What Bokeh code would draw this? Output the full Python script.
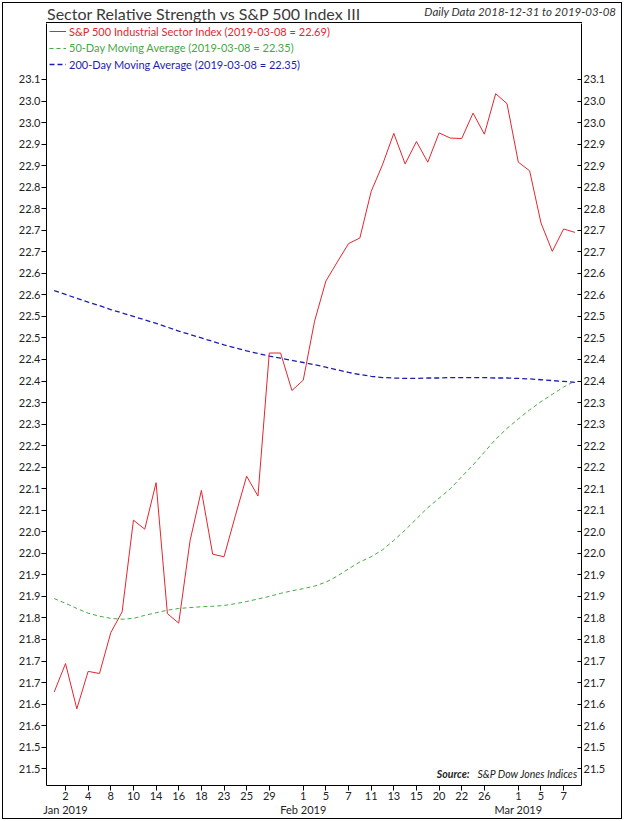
from bokeh.plotting import figure
from bokeh.layouts import column
from bokeh.models import (ColumnDataSource, FixedTicker, LinearAxis, Range1d,
                          Label, Legend, LegendItem, Div)
from bokeh.embed import file_html
from bokeh.resources import INLINE
import html

# ---------------- data ----------------
dates = [
    "2018-12-31", "2019-01-02", "2019-01-03", "2019-01-04", "2019-01-07", "2019-01-08",
    "2019-01-09", "2019-01-10", "2019-01-11", "2019-01-14", "2019-01-15", "2019-01-16",
    "2019-01-17", "2019-01-18", "2019-01-22", "2019-01-23", "2019-01-24", "2019-01-25",
    "2019-01-28", "2019-01-29", "2019-01-30", "2019-01-31", "2019-02-01", "2019-02-04",
    "2019-02-05", "2019-02-06", "2019-02-07", "2019-02-08", "2019-02-11", "2019-02-12",
    "2019-02-13", "2019-02-14", "2019-02-15", "2019-02-19", "2019-02-20", "2019-02-21",
    "2019-02-22", "2019-02-25", "2019-02-26", "2019-02-27", "2019-02-28", "2019-03-01",
    "2019-03-04", "2019-03-05", "2019-03-06", "2019-03-07", "2019-03-08",
]

industrial = [
    21.628, 21.694, 21.589, 21.676, 21.671, 21.766, 21.814, 22.027, 22.006, 22.114,
    21.810, 21.788, 21.979, 22.096, 21.948, 21.942, 22.037, 22.129, 22.083, 22.415,
    22.415, 22.328, 22.352, 22.489, 22.582, 22.626, 22.669, 22.682, 22.790, 22.852,
    22.925, 22.854, 22.906, 22.858, 22.926, 22.914, 22.913, 22.972, 22.923, 23.017,
    22.994, 22.858, 22.838, 22.717, 22.651, 22.703, 22.695,
]

ma50 = [
    21.845, 21.834, 21.822, 21.811, 21.804, 21.799, 21.797, 21.799, 21.806, 21.812,
    21.818, 21.822, 21.824, 21.826, 21.827, 21.829, 21.833, 21.838, 21.844, 21.850,
    21.857, 21.863, 21.868, 21.874, 21.883, 21.897, 21.914, 21.930, 21.942, 21.958,
    21.980, 22.004, 22.030, 22.056, 22.078, 22.100, 22.128, 22.155, 22.185, 22.215,
    22.240, 22.262, 22.283, 22.302, 22.319, 22.336, 22.350,
]

ma200 = [
    22.560, 22.551, 22.542, 22.533, 22.525, 22.516, 22.508, 22.500, 22.492, 22.484,
    22.475, 22.466, 22.458, 22.450, 22.442, 22.434, 22.427, 22.420, 22.414, 22.408,
    22.403, 22.398, 22.393, 22.388, 22.382, 22.376, 22.370, 22.365, 22.361, 22.358,
    22.357, 22.356, 22.356, 22.357, 22.357, 22.358, 22.358, 22.358, 22.358, 22.357,
    22.357, 22.356, 22.355, 22.353, 22.351, 22.349, 22.347,
]

x_tick_dates = [
    "2019-01-02", "2019-01-04", "2019-01-08", "2019-01-10", "2019-01-14", "2019-01-16",
    "2019-01-18", "2019-01-23", "2019-01-25", "2019-01-29", "2019-02-01", "2019-02-05",
    "2019-02-07", "2019-02-11", "2019-02-13", "2019-02-15", "2019-02-20", "2019-02-22",
    "2019-02-26", "2019-03-01", "2019-03-05", "2019-03-07",
]
month_label_dates = ["2019-01-02", "2019-02-01", "2019-03-01"]
month_labels = ["Jan 2019", "Feb 2019", "Mar 2019"]

y_tick_values = [
    21.45, 21.50, 21.55, 21.60, 21.65, 21.70, 21.75, 21.80, 21.85, 21.90, 21.95,
    22.00, 22.05, 22.10, 22.15, 22.20, 22.25, 22.30, 22.35, 22.40, 22.45, 22.50,
    22.55, 22.60, 22.65, 22.70, 22.75, 22.80, 22.85, 22.90, 22.95, 23.00, 23.05,
]
y_tick_labels = [
    "21.5", "21.5", "21.6", "21.6", "21.7", "21.7", "21.8", "21.8", "21.9", "21.9", "22.0",
    "22.0", "22.1", "22.1", "22.2", "22.2", "22.3", "22.3", "22.4", "22.4", "22.5", "22.5",
    "22.6", "22.6", "22.7", "22.7", "22.8", "22.8", "22.9", "22.9", "23.0", "23.0", "23.1",
]

title_text = "Sector Relative Strength vs S&P 500 Index III"
subtitle_text = "Daily Data 2018-12-31 to 2019-03-08"
legend_labels = [
    "S&P 500 Industrial Sector Index (2019-03-08 = 22.69)",
    "50-Day Moving Average (2019-03-08 = 22.35)",
    "200-Day Moving Average (2019-03-08 = 22.35)",
]

# ---------------- styling ----------------
RED = "#e3262f"
GREEN = "#45a845"
BLUE = "#1e1eae"
TXT = "#222222"
FONT = "Lato"

xs = list(range(len(dates)))
src = ColumnDataSource(dict(x=xs, ind=industrial, ma50=ma50, ma200=ma200))

FRAME_H = 762

# header strip (title, subtitle, top edge of the plot box)
header_html = (
    '<div style="position:relative;width:624px;height:23px;margin:0;padding:0;">'
    '<span style="position:absolute;left:47px;top:4px;white-space:nowrap;'
    'font-family:Lato;font-size:16px;line-height:20px;color:#3a3a3a;">'
    + html.escape(title_text) + '</span>'
    '<span style="position:absolute;right:8px;top:5px;white-space:nowrap;'
    'font-family:Lato;font-size:11.5px;line-height:14px;font-style:italic;'
    'color:#333333;">' + html.escape(subtitle_text) + '</span>'
    '<div style="position:absolute;left:46px;top:22px;width:536px;height:1px;'
    'background:#000000;"></div>'
    '</div>'
)
header = Div(text=header_html, width=624, height=23,
             styles={"margin": "0", "padding": "0"})

p = figure(width=624, height=798, output_backend="svg", toolbar_location=None,
           x_range=Range1d(-0.68, 46.58), y_range=Range1d(21.411, 23.18),
           min_border_left=46, min_border_right=43, min_border_top=0,
           min_border_bottom=36, background_fill_color="white",
           border_fill_alpha=0, outline_line_color=None)
p.xgrid.visible = False
p.ygrid.visible = False

# glyphs
r50 = p.line("x", "ma50", source=src, line_color=GREEN, line_width=1,
             line_dash="4 3")
r200 = p.line("x", "ma200", source=src, line_color=BLUE, line_width=1.3,
              line_dash="5 3")
rind = p.line("x", "ind", source=src, line_color=RED, line_width=1)

# x axis: day numbers
x_tick_pos = [dates.index(d) for d in x_tick_dates]
xa = p.xaxis[0]
xa.ticker = FixedTicker(ticks=x_tick_pos)
xa.major_label_overrides = {i: str(int(dates[i][8:])) for i in x_tick_pos}
xa.major_tick_out = 5
xa.major_tick_in = 0
xa.minor_tick_line_color = None
xa.major_label_standoff = 1
xa.axis_line_color = "black"
xa.major_tick_line_color = "black"
xa.major_label_text_font = FONT
xa.major_label_text_font_size = "11px"
xa.major_label_text_color = TXT

# second x axis: month labels
m_pos = [dates.index(d) for d in month_label_dates]
ma = LinearAxis(ticker=FixedTicker(ticks=m_pos),
                major_label_overrides={i: l for i, l in zip(m_pos, month_labels)},
                major_tick_out=0, major_tick_in=0, major_label_standoff=0,
                minor_tick_line_color=None, axis_line_color=None,
                major_tick_line_color=None, major_label_text_font=FONT,
                major_label_text_font_size="11px", major_label_text_color=TXT)
p.add_layout(ma, "below")

y_over = {v: l for v, l in zip(y_tick_values, y_tick_labels)}

ya = p.yaxis[0]
ya.ticker = FixedTicker(ticks=y_tick_values)
ya.major_label_overrides = y_over
ya.major_tick_out = 5
ya.major_tick_in = 0
ya.minor_tick_line_color = None
ya.major_label_standoff = 1
ya.axis_line_color = "black"
ya.major_tick_line_color = "black"
ya.major_label_text_font = FONT
ya.major_label_text_font_size = "11px"
ya.major_label_text_color = TXT

ra = LinearAxis(ticker=FixedTicker(ticks=y_tick_values),
                major_label_overrides=y_over,
                major_tick_out=0, major_tick_in=4,
                minor_tick_line_color=None, major_label_standoff=2,
                axis_line_color="black", major_tick_line_color="black",
                major_label_text_font=FONT, major_label_text_font_size="11px",
                major_label_text_color=TXT)
p.add_layout(ra, "right")

# legends (one per series so each label takes its series colour)
legend_rows = [FRAME_H - 8.5 - 6, FRAME_H - 25 - 6, FRAME_H - 41.5 - 6]
for lab, r, col, ly in zip(legend_labels, [rind, r50, r200],
                           [RED, GREEN, BLUE], legend_rows):
    lg = Legend(items=[LegendItem(label=lab, renderers=[r])],
                location=(3, ly), padding=0, margin=0, spacing=0,
                glyph_width=17, glyph_height=12, label_height=12,
                label_standoff=3, label_text_font=FONT,
                label_text_font_size="11px", label_text_color=col,
                border_line_color=None, background_fill_alpha=0)
    p.add_layout(lg)

# source note
p.add_layout(Label(x=423, y=12, x_units="screen", y_units="screen",
                   text="Source:", text_font=FONT, text_font_size="10.5px",
                   text_font_style="bold italic", text_color=TXT,
                   text_align="right", text_baseline="middle"))
p.add_layout(Label(x=431, y=12, x_units="screen", y_units="screen",
                   text="S&P Dow Jones Indices", text_font=FONT,
                   text_font_size="10.5px", text_font_style="italic",
                   text_color=TXT, text_align="left", text_baseline="middle"))

layout = column(header, p, spacing=0,
                styles={"box-shadow": "inset 0 0 0 2px #ffffff, inset 0 0 0 3px #000000",
                        "background": "#ffffff"})

open("out.html", "w").write(file_html(layout, INLINE))
